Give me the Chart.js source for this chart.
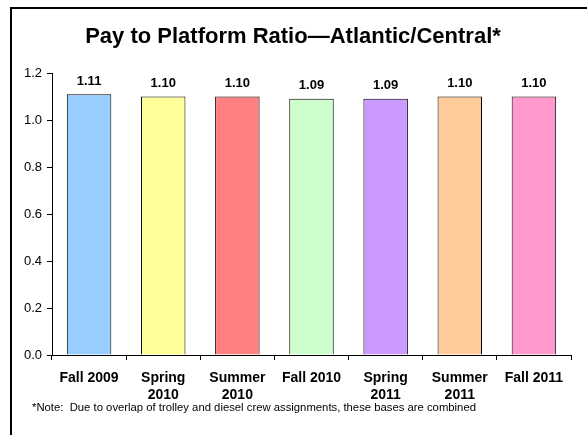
<!DOCTYPE html>
<html>
<head>
<meta charset="utf-8">
<script src="https://cdn.jsdelivr.net/npm/chart.js@4.4.0/dist/chart.umd.min.js"></script>
<style>
	html, body { margin: 0; padding: 0; background: #fff; }
	canvas { display: block; }
</style>
</head>
<body>
<canvas id="chart" width="587" height="435"></canvas>
<script>
var categories = [["Fall 2009"], ["Spring", "2010"], ["Summer", "2010"], ["Fall 2010"], ["Spring", "2011"], ["Summer", "2011"], ["Fall 2011"]];
var ratios = [1.11, 1.10, 1.10, 1.09, 1.09, 1.10, 1.10];
var barColours = ["#99CCFF", "#FFFF99", "#FF8080", "#CCFFCC", "#CC99FF", "#FFCC99", "#FF99CC"];
var yTicks = [0, 0.2, 0.4, 0.6, 0.8, 1.0, 1.2];
var titleText = "Pay to Platform Ratio\u2014Atlantic/Central*";
var noteText = "*Note:  Due to overlap of trolley and diesel crew assignments, these bases are combined";

var fontFamily = "'Liberation Sans', Arial, sans-serif";

/**
 * Draws frame, title, note and bar values
 */
var decorations = {
	id: "decorations",
	afterDraw: function (chart) {
		var ctx = chart.ctx;
		ctx.save();

		// outer frame (only top and left edges visible)
		ctx.strokeStyle = "#000";
		ctx.lineWidth = 2;
		ctx.beginPath();
		ctx.moveTo(11, 440);
		ctx.lineTo(11, 8);
		ctx.lineTo(600, 8);
		ctx.stroke();

		ctx.fillStyle = "#000";
		ctx.textAlign = "center";
		ctx.textBaseline = "middle";
		ctx.font = "bold 22px " + fontFamily;
		ctx.fillText(titleText, 293, 37);

		ctx.font = "bold 13px " + fontFamily;
		var meta = chart.getDatasetMeta(0);
		meta.data.forEach(function (bar, i) {
			ctx.fillText(ratios[i].toFixed(2), bar.x, bar.y - 13);
		});

		ctx.textAlign = "left";
		ctx.font = "11.3px " + fontFamily;
		ctx.fillText(noteText, 32, 408);

		ctx.restore();
	}
};

new Chart(document.getElementById("chart"), {
	type: "bar",
	data: {
		labels: categories,
		datasets: [{
			data: ratios,
			backgroundColor: barColours,
			borderColor: "#000",
			borderWidth: 1,
			borderSkipped: "bottom",
			barPercentage: 0.6,
			categoryPercentage: 1.0
		}]
	},
	options: {
		responsive: false,
		animation: false,
		devicePixelRatio: 1,
		layout: {
			padding: { top: 73, right: 16, left: 0, bottom: 0 }
		},
		plugins: {
			legend: { display: false },
			tooltip: { enabled: false }
		},
		scales: {
			x: {
				offset: true,
				grid: {
					offset: true,
					drawOnChartArea: false,
					drawTicks: true,
					tickLength: 5,
					color: "#000"
				},
				border: { color: "#000", width: 1 },
				ticks: {
					color: "#000",
					font: { family: fontFamily, size: 14, weight: "bold", lineHeight: 1.2 },
					maxRotation: 0,
					autoSkip: false,
					padding: 10
				},
				afterFit: function (scale) { scale.height = 80; }
			},
			y: {
				min: 0,
				max: 1.2,
				afterBuildTicks: function (scale) {
					scale.ticks = yTicks.map(function (v) { return { value: v }; });
				},
				grid: {
					drawOnChartArea: false,
					drawTicks: true,
					tickLength: 5,
					color: "#000"
				},
				border: { color: "#000", width: 1 },
				ticks: {
					color: "#000",
					font: { family: fontFamily, size: 13 },
					padding: 5,
					callback: function (v) { return Number(v).toFixed(1); }
				},
				afterFit: function (scale) { scale.width = 52; }
			}
		}
	},
	plugins: [decorations]
});
</script>
</body>
</html>
